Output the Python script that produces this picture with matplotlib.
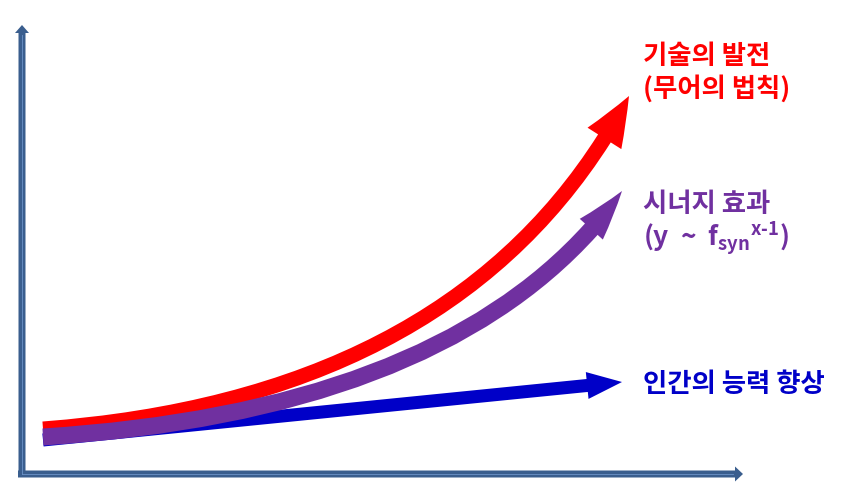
import matplotlib.pyplot as plt
from matplotlib.patches import FancyArrowPatch
from matplotlib.path import Path

plt.rcParams['font.family'] = ['Noto Sans CJK KR', 'DejaVu Sans']
plt.rcParams['mathtext.fontset'] = 'custom'
plt.rcParams['mathtext.rm'] = 'Noto Sans CJK KR:bold'
plt.rcParams['mathtext.it'] = 'Noto Sans CJK KR:bold'
plt.rcParams['mathtext.bf'] = 'Noto Sans CJK KR:bold'

W, H = 861, 497

# schematic curves in picture pixels (y down): start, bezier control, tip
tech_curve = [(43, 429), (470, 397), (629, 96)]
synergy_curve = [(43, 437), (465, 410), (622, 191)]
human_curve = [(43, 440), (332, 411), (622, 382)]

# axes
origin = (22, 474)
y_axis_from = 477
y_axis_top = 25
x_axis_from = 18
x_axis_end = 743

tech_label = ["기술의 발전", "(무어의 법칙)"]
synergy_label = ["시너지 효과", r"(y  ~  f$_{\mathrm{syn}}{}^{\mathrm{x}\text{-}\mathrm{1}}$)"]
human_label = ["인간의 능력 향상"]

RED = "#ff0000"
PURPLE = "#7030a0"
BLUE = "#0000c8"
AXIS = "#3a5e8e"

PX = 72 / 100  # pixels -> points at dpi 100

fig = plt.figure(figsize=(8.61, 4.97), dpi=100)
ax = fig.add_axes([0, 0, 1, 1])
ax.set_xlim(0, W)
ax.set_ylim(H, 0)
ax.axis("off")


def arrow(pts, color, tail, hw, hl, z):
    path = Path(pts, [Path.MOVETO, Path.CURVE3, Path.CURVE3])
    style = "simple,head_length=%.2f,head_width=%.2f,tail_width=%.2f" % (hl * PX, hw * PX, tail * PX)
    p = FancyArrowPatch(path=path, arrowstyle=style, color=color, lw=0, zorder=z)
    ax.add_patch(p)


def straight(a, b):
    return [a, ((a[0] + b[0]) / 2, (a[1] + b[1]) / 2), b]


# axes arrows
arrow(straight((origin[0], y_axis_from), (origin[0], y_axis_top)), AXIS, 7, 14, 8, 1)
arrow(straight((x_axis_from, origin[1]), (x_axis_end, origin[1])), AXIS, 7, 15, 8, 1)
ax.plot([origin[0], origin[0]], [y_axis_from - 3, y_axis_top + 10], color="#6d93c8", lw=0.6, zorder=2)
ax.plot([x_axis_from + 4, x_axis_end - 10], [origin[1], origin[1]], color="#6d93c8", lw=0.6, zorder=2)

# growth arrows
arrow(tech_curve, RED, 15, 40, 49, 3)
arrow(human_curve, BLUE, 13, 27, 35, 4)
arrow(synergy_curve, PURPLE, 17, 31, 49, 5)

kw = dict(fontsize=19, fontweight="bold", ha="left", va="center")
ax.text(643, 56, tech_label[0], color=RED, **kw)
ax.text(643, 89, tech_label[1], color=RED, **kw)
ax.text(643, 205, synergy_label[0], color=PURPLE, **kw)
ax.text(643, 238, synergy_label[1], color=PURPLE, **kw)
ax.text(643, 384, human_label[0], color=BLUE, **kw)

fig.savefig("out.png", dpi=100)
